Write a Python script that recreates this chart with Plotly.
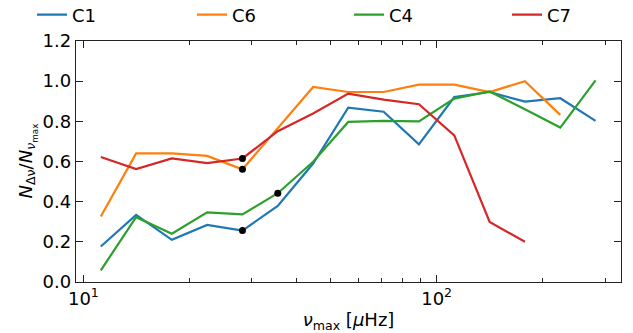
import plotly.graph_objects as go

# bin centres in nu_max (muHz)
numax = [11.2, 14.1, 17.8, 22.4, 28.2, 35.5, 44.7, 56.2, 70.8, 89.1, 112.2, 141.3, 177.8, 223.9, 281.8]

c1 = [0.177, 0.334, 0.210, 0.284, 0.256, 0.379, 0.590, 0.868, 0.848, 0.685, 0.921, 0.946, 0.898, 0.915, 0.802]
c6 = [0.326, 0.640, 0.640, 0.628, 0.561, 0.765, 0.971, 0.946, 0.946, 0.983, 0.983, 0.946, 1.000, 0.832]
c4 = [0.058, 0.323, 0.240, 0.347, 0.337, 0.442, 0.599, 0.797, 0.802, 0.800, 0.913, 0.949, 0.860, 0.769, 1.004]
c7 = [0.622, 0.562, 0.615, 0.592, 0.615, 0.751, 0.839, 0.938, 0.908, 0.885, 0.730, 0.299, 0.200]

# highlighted points (index into numax) for each series
mark_c1 = [4]
mark_c6 = [4]
mark_c4 = [5]
mark_c7 = [4]

series = [
    ("C1", c1, "#1f77b4", mark_c1),
    ("C6", c6, "#ff7f0e", mark_c6),
    ("C4", c4, "#2ca02c", mark_c4),
    ("C7", c7, "#d62728", mark_c7),
]

FONT = "DejaVu Sans"
W, H = 633, 333
ML, MR, MT, MB = 76, 12, 41, 51
legend_names = ["legend", "legend2", "legend3", "legend4"]
legend_left_px = [32, 192, 349, 507]

fig = go.Figure()
for k, (name, vals, col, _) in enumerate(series):
    fig.add_trace(go.Scatter(x=numax[:len(vals)], y=vals, mode="lines", name=name,
                             legend=legend_names[k],
                             line=dict(color=col, width=2.2)))

mx, my = [], []
for name, vals, col, marks in series:
    for i in marks:
        mx.append(numax[i])
        my.append(vals[i])
fig.add_trace(go.Scatter(x=mx, y=my, mode="markers", showlegend=False,
                         marker=dict(color="black", size=7)))

axis_common = dict(showline=True, linecolor="#222222", linewidth=1.3, mirror="allticks",
                   ticks="inside", tickcolor="#222222", showgrid=False, zeroline=False,
                   tickfont=dict(family=FONT, size=18, color="black"))

fig.update_xaxes(type="log", range=[0.979, 2.522],
                 tickvals=[10, 100], ticktext=["10<sup>1</sup>", "10<sup>2</sup>"],
                 ticklen=7, tickwidth=1.2,
                 minor=dict(tickvals=[20, 30, 40, 50, 60, 70, 80, 90, 200, 300],
                            ticks="inside", ticklen=4, tickcolor="#222222", tickwidth=1),
                 title=dict(text="<i>ν</i><sub>max</sub> [<i>μ</i>Hz]", standoff=6,
                            font=dict(family=FONT, size=18, color="black")),
                 **axis_common)
fig.update_yaxes(range=[0, 1.2], tickvals=[0, 0.2, 0.4, 0.6, 0.8, 1.0, 1.2],
                 tickformat=".1f", ticklen=7, tickwidth=1.2,
                 **axis_common)

layout_legends = {}
for name, px in zip(legend_names, legend_left_px):
    layout_legends[name] = dict(xref="container", yref="container",
                                x=px / W, y=1 - 15 / H, xanchor="left", yanchor="middle",
                                font=dict(family=FONT, size=18, color="black"),
                                bgcolor="rgba(0,0,0,0)")

plot_w = W - ML - MR
fig.add_annotation(text="<i>N</i><sub>Δν</sub>/<i>N</i><sub><i>ν</i><sub>max</sub></sub>",
                   xref="paper", yref="paper", x=(27 - ML) / plot_w, y=0.5,
                   xanchor="center", yanchor="middle", textangle=-90, showarrow=False,
                   font=dict(family=FONT, size=18, color="black"))

fig.update_layout(
    width=W, height=H,
    margin=dict(l=ML, r=MR, t=MT, b=MB, autoexpand=False),
    plot_bgcolor="white", paper_bgcolor="white",
    font=dict(family=FONT, size=18, color="black"),
    **layout_legends,
)

fig.write_html("out.html")
